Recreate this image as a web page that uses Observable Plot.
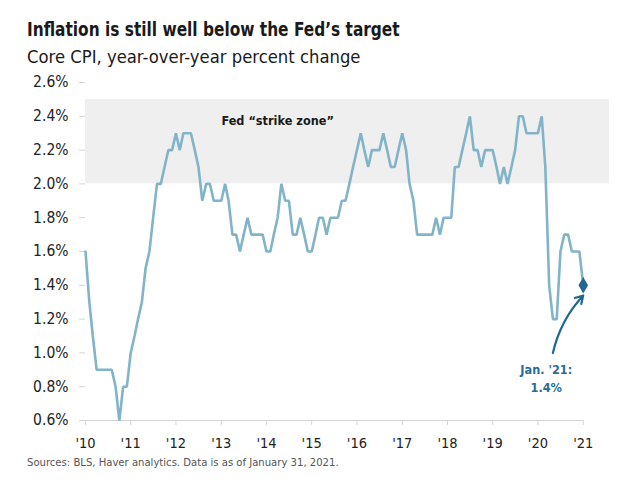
<!DOCTYPE html>
<html>
<head>
<meta charset="utf-8">
<script src="https://cdn.jsdelivr.net/npm/d3@7"></script>
<script src="https://cdn.jsdelivr.net/npm/@observablehq/plot@0.6"></script>
<style>
  html, body { margin: 0; padding: 0; background: #fff; }
  body { width: 630px; height: 487px; position: relative; overflow: hidden;
         font-family: "DejaVu Sans Condensed", "Liberation Sans Narrow", Lato, sans-serif; color: #1a1a1a; }
  .t { position: absolute; left: 27px; white-space: nowrap; line-height: 1; }
  #title { top: 20px; font-size: 19px; font-weight: bold; transform: scaleX(0.9); transform-origin: 0 0; }
  #subtitle { top: 48px; font-size: 18.3px; }
  #caption { top: 457px; font-size: 11.2px; color: #555; }
  #chart { position: absolute; left: 0; top: 70px; }
</style>
</head>
<body>
<div id="title" class="t">Inflation is still well below the Fed’s target</div>
<div id="subtitle" class="t">Core CPI, year-over-year percent change</div>
<div id="chart"></div>
<div id="caption" class="t">Sources: BLS, Haver analytics. Data is as of January 31, 2021.</div>
<script>
// Core CPI, YoY % change, monthly from Jan 2010 to Jan 2021
const startMonth = "2010-01";
const coreCpi = [
  1.6, 1.3, 1.1, 0.9, 0.9, 0.9, 0.9, 0.9, 0.8, 0.6, 0.8, 0.8, // 2010
  1.0, 1.1, 1.2, 1.3, 1.5, 1.6, 1.8, 2.0, 2.0, 2.1, 2.2, 2.2, // 2011
  2.3, 2.2, 2.3, 2.3, 2.3, 2.2, 2.1, 1.9, 2.0, 2.0, 1.9, 1.9, // 2012
  1.9, 2.0, 1.9, 1.7, 1.7, 1.6, 1.7, 1.8, 1.7, 1.7, 1.7, 1.7, // 2013
  1.6, 1.6, 1.7, 1.8, 2.0, 1.9, 1.9, 1.7, 1.7, 1.8, 1.7, 1.6, // 2014
  1.6, 1.7, 1.8, 1.8, 1.7, 1.8, 1.8, 1.8, 1.9, 1.9, 2.0, 2.1, // 2015
  2.2, 2.3, 2.2, 2.1, 2.2, 2.2, 2.2, 2.3, 2.2, 2.1, 2.1, 2.2, // 2016
  2.3, 2.2, 2.0, 1.9, 1.7, 1.7, 1.7, 1.7, 1.7, 1.8, 1.7, 1.8, // 2017
  1.8, 1.8, 2.1, 2.1, 2.2, 2.3, 2.4, 2.2, 2.2, 2.1, 2.2, 2.2, // 2018
  2.2, 2.1, 2.0, 2.1, 2.0, 2.1, 2.2, 2.4, 2.4, 2.3, 2.3, 2.3, // 2019
  2.3, 2.4, 2.1, 1.4, 1.2, 1.2, 1.6, 1.7, 1.7, 1.6, 1.6, 1.6, // 2020
  1.4                                                          // Jan 2021
];
const yearTicks = ["2010","2011","2012","2013","2014","2015","2016","2017","2018","2019","2020","2021"];
const yearLabels = ["'10","'11","'12","'13","'14","'15","'16","'17","'18","'19","'20","'21"];
const percentTicks = [0.6, 0.8, 1.0, 1.2, 1.4, 1.6, 1.8, 2.0, 2.2, 2.4, 2.6];
const strikeZone = { low: 2.0, high: 2.5, label: "Fed “strike zone”", labelMonth: "2014-04", labelValue: 2.37 };
const bandEnd = "2021-08";
const annotationText = "Jan. '21:\n1.4%";

const parse = d3.utcParse("%Y-%m");
const parseY = d3.utcParse("%Y");
const t0 = parse(startMonth);
const data = coreCpi.map((v, i) => ({ date: d3.utcMonth.offset(t0, i), value: v }));
const last = data[data.length - 1];
const tickDates = yearTicks.map(parseY);
const labelOf = new Map(tickDates.map((d, i) => [+d, yearLabels[i]]));

const lineColor = "#82b4c9";
const accent = "#1f6890";
const font = "\"DejaVu Sans Condensed\", \"Liberation Sans Narrow\", Lato, sans-serif";

const chart = Plot.plot({
  width: 630,
  height: 390,
  marginLeft: 85,
  marginRight: 21,
  marginTop: 12,
  marginBottom: 40,
  style: { fontFamily: font, background: "transparent" },
  x: { type: "utc", domain: [t0, parse(bandEnd)] },
  y: { domain: [0.6, 2.6] },
  marks: [
    Plot.rect([strikeZone], { x1: () => t0, x2: () => parse(bandEnd), y1: "low", y2: "high", fill: "#efefef" }),
    Plot.text([strikeZone], { x: d => parse(d.labelMonth), y: "labelValue", text: "label", fontSize: 12.6, fontWeight: "bold", fill: "#1a1a1a" }),
    Plot.ruleY([0.6], { x1: () => t0, x2: () => tickDates[tickDates.length - 1], stroke: "#d4d4d4" }),
    Plot.axisY(percentTicks, { tickSize: 6, tickPadding: 11, stroke: "#d4d4d4", fill: "#222", fontSize: 15.5, tickFormat: d => d.toFixed(1) + "%" }),
    Plot.axisX(tickDates, { tickSize: 5, tickPadding: 12, stroke: "#d4d4d4", fill: "#222", fontSize: 14.5, tickFormat: d => labelOf.get(+d) }),
    Plot.line(data, { x: "date", y: "value", stroke: lineColor, strokeWidth: 2.6, strokeLinejoin: "miter" }),
    Plot.arrow([last], { x1: d => d3.utcMonth.offset(d.date, -8), y1: d => d.value - 0.4, x2: "date", y2: d => d.value - 0.06, bend: 15, stroke: accent, strokeWidth: 2.2, headLength: 6 }),
    Plot.dot([last], { x: "date", y: "value", symbol: "diamond", fill: accent, r: 5 }),
    Plot.text([last], { x: "date", y: "value", text: () => annotationText, dx: -37, dy: 92, fontSize: 12.6, fontWeight: "bold", fill: "#2a6c92", lineHeight: 1.4 })
  ]
});
document.getElementById("chart").appendChild(chart);
</script>
</body>
</html>
